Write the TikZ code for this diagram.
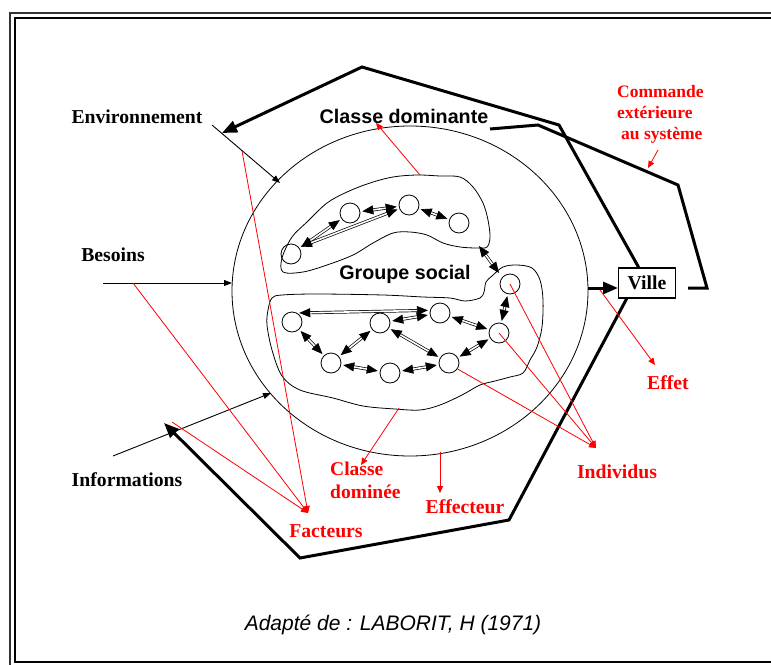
\documentclass[tikz,border=0pt]{standalone}
\usepackage{fontspec}
\setmainfont{Liberation Serif}
\newfontfamily\arialf{Liberation Sans}
\usetikzlibrary{arrows.meta,shapes.geometric,calc}
\definecolor{rd}{RGB}{255,0,0}
\begin{document}
\begin{tikzpicture}[x=1pt,y=-1pt,
  lbl/.style={font=\fontsize{19.7}{22}\selectfont\bfseries, inner sep=0pt},
  rlbl/.style={lbl, text=rd},
  albl/.style={font=\fontsize{19.7}{22}\selectfont\arialf\bfseries, inner sep=0pt},
  pers/.style={circle, draw, minimum size=20pt, inner sep=0pt, line width=0.8pt},
  dbl/.style={double, double distance=1.6pt, line width=0.7pt,
     {Triangle[length=11pt,width=9pt]}-{Triangle[length=11pt,width=9pt]},
     shorten <=2pt, shorten >=2pt},
  thk/.style={line width=3pt},
  thkarrow/.style={thk, -{Triangle[length=15pt,width=12pt]}},
  thin/.style={line width=0.9pt, -{Triangle[length=8pt,width=6pt]}},
  rarrow/.style={draw=rd, line width=0.8pt, -{Triangle[length=7pt,width=6pt]}},
  blob/.style={line width=0.8pt}
]
\useasboundingbox (0,0) rectangle (771,664);
\clip (0,0) rectangle (771,664);
% frame
\draw[line width=2pt, black!80] (10,13) rectangle (800,700);
\draw[line width=2pt] (15,18) rectangle (800,662);

% big ellipse
\node[ellipse, draw, line width=0.8pt, minimum width=356pt, minimum height=330pt, inner sep=0pt] (grp) at (410,291) {};

% blobs
\draw[blob] plot[smooth cycle, tension=0.55] coordinates {
 (283,272) (282,258) (292,237) (307,222) (327,203) (347,192) (370,183) (393,177)
 (417,175) (440,176) (460,177) (473,187) (483,203) (488,220) (490,237) (487,247)
 (477,248) (460,247) (443,243) (427,235) (410,232) (393,233) (373,243) (353,255)
 (327,265) (303,272)};
\draw[blob] plot[smooth cycle, tension=0.55] coordinates {
 (268,310) (272,298) (282,295) (317,294) (383,295) (423,297) (450,298) (465,301)
 (480,298) (484,292) (486,282) (492,276) (503,267) (517,265) (532,268) (540,280)
 (543,300) (542,327) (537,347) (530,360) (523,373) (510,377) (495,381) (480,385)
 (462,395) (440,405) (420,410) (395,409) (363,406) (333,398) (300,390) (282,376)
 (272,350) (267,325)};

% individuals
\node[pers] (C1) at (291,254) {};
\node[pers] (C2) at (350,213) {};
\node[pers] (C3) at (409,205) {};
\node[pers] (C4) at (459,223) {};
\node[pers] (L1) at (292,322) {};
\node[pers] (L2) at (380,323) {};
\node[pers] (L3) at (440,313) {};
\node[pers] (L4) at (510,284) {};
\node[pers] (L5) at (499,333) {};
\node[pers] (L6) at (331,363) {};
\node[pers] (L7) at (390,373) {};
\node[pers] (L8) at (449,363) {};

% relations
\draw[dbl] (C1) -- (C2);
\draw[dbl] (C1.40) -- (C3);
\draw[dbl] (C2) -- (C3);
\draw[dbl] (C3) -- (C4);
\coordinate (ub) at (479,246);
\coordinate (lb) at (499,273);
\draw[dbl, shorten <=0pt, shorten >=0pt] (ub) -- (lb);
\draw[dbl] (L1.60) -- (L3.165);
\draw[dbl] (L1) -- (L6);
\draw[dbl] (L6) -- (L2);
\draw[dbl] (L6) -- (L7);
\draw[dbl] (L7) -- (L8);
\draw[dbl] (L2) -- (L3);
\draw[dbl] (L3) -- (L5);
\draw[dbl] (L2) -- (L8);
\draw[dbl] (L8) -- (L5);
\draw[dbl] (L5) -- (L4);

% Ville
\node[lbl, draw, line width=1.2pt, minimum height=30pt, inner xsep=9pt, inner ysep=0pt, anchor=west]
  (ville) at (618,283) {Ville\hspace{13pt}};
\coordinate (vin) at (618,288);
\coordinate (vout) at (688,288);
\draw[thkarrow] (grp.east |- vin) -- (vin);

% thick system outline
\coordinate (ptop) at (362,67);
\coordinate (pr1) at (559,125);
\coordinate (envtip) at (222,133);
\coordinate (pr2) at (509,520);
\coordinate (pbot) at (300,558);
\coordinate (inftip) at (164,423);
\coordinate (vtop) at (639,268);
\coordinate (vbot) at (627,298);
\draw[thkarrow] (vtop) -- (pr1) -- (ptop) -- (envtip);
\draw[thkarrow] (vbot) -- (pr2) -- (pbot) -- (inftip);
% feedback loop
\node[albl] (cdom) at (404,116) {Classe dominante};
\coordinate (q1) at (707,288);
\coordinate (q2) at (678,185);
\coordinate (q3) at (538,125);
\coordinate (q4) at (490,129);
\draw[thk, line join=miter] (vout) -- (q1) -- (q2) -- (q3) -- (q4);

% black labels
\node[lbl] (env) at (137,117) {Environnement};
\node[lbl] (bes) at (113,255) {Besoins};
\node[lbl] (inf) at (127,480) {Informations};
\node[albl] (gs) at (405,274) {Groupe social};

% thin input arrows
\coordinate (e0) at (212,125);
\coordinate (e1) at (280,183);
\coordinate (b0) at (103,283);
\coordinate (b1) at (232,283);
\coordinate (i0) at (113,456);
\coordinate (i1) at (271,393);
\draw[thin] (e0) -- (e1);
\draw[thin] (b0) -- (b1);
\draw[thin] (i0) -- (i1);

% red labels
\node[rlbl, font=\fontsize{17.5}{21}\selectfont\bfseries, align=left, anchor=north west] (cmd) at (617,85)
  {Commande\\extérieure\\\hspace{4pt}au système};
\node[rlbl] (effet) at (668,383) {Effet};
\node[rlbl] (indiv) at (617,472) {Individus};
\node[rlbl] (effr) at (465,507) {Effecteur};
\node[rlbl, align=left, anchor=north west, font=\fontsize{19.5}{23}\selectfont\bfseries] (cdomi) at (330,462) {Classe\\dominée};
\node[rlbl] (fact) at (326,531) {Facteurs};

% red pointers
\coordinate (ftip) at (308,513);
\coordinate (f1) at (242,151);
\coordinate (f2) at (133,283);
\coordinate (f3) at (172,422);
\draw[rarrow] (f1) -- (ftip);
\draw[rarrow] (f2) -- (ftip);
\draw[rarrow] (f3) -- (ftip);
\coordinate (itip) at (596,448);
\draw[rarrow] (L4.center) -- (itip);
\draw[rarrow] (L5.center) -- (itip);
\draw[rarrow] (L8.-35) -- (itip);
\coordinate (cd0) at (420,175);
\coordinate (cd1) at (376,123);
\draw[rarrow] (cd0) -- (cd1);
\coordinate (cm0) at (658,150);
\coordinate (cm1) at (648,168);
\draw[rarrow] (cm0) -- (cm1);
\coordinate (ef0) at (600,290);
\coordinate (ef1) at (655,365);
\draw[rarrow] (ef0) -- (ef1);
\coordinate (ec0) at (440,452);
\coordinate (ec1) at (440,493);
\draw[rarrow] (ec0) -- (ec1);
\coordinate (cl0) at (399,408);
\coordinate (cl1) at (361,465);
\draw[rarrow] (cl0) -- (cl1);

% caption
\node[font=\fontsize{21}{24}\selectfont\arialf\itshape, inner sep=0pt] (cap) at (393,625) {Adapté de : LABORIT, H (1971)};
\end{tikzpicture}
\end{document}
